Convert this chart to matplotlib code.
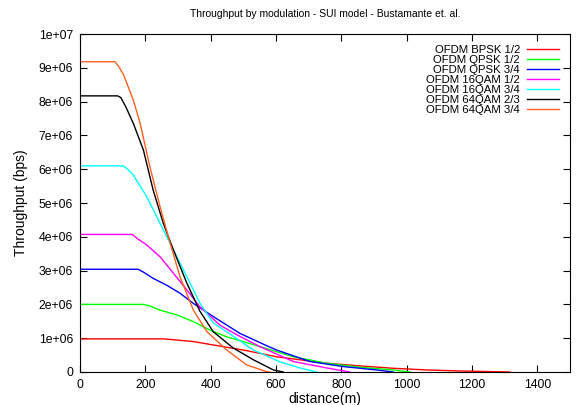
import matplotlib
matplotlib.use('Agg')
import matplotlib.pyplot as plt

plt.rcParams['font.family'] = ['Liberation Sans', 'DejaVu Sans']

# distance (m) / throughput (bps)
bpsk12_d = [0, 1, 255, 280, 347, 438, 500, 602, 755, 857, 959, 1061, 1163, 1316]
bpsk12_t = [0, 0.98e6, 0.98e6, 0.96e6, 0.90e6, 0.75e6, 0.65e6, 0.45e6, 0.26e6, 0.18e6, 0.11e6, 0.06e6, 0.03e6, 0]

qpsk12_d = [0, 1, 195, 215, 245, 296, 347, 398, 449, 500, 551, 653, 755, 857, 959, 1010]
qpsk12_t = [0, 2.00e6, 2.00e6, 1.95e6, 1.83e6, 1.69e6, 1.49e6, 1.24e6, 1.04e6, 0.90e6, 0.75e6, 0.45e6, 0.26e6, 0.14e6, 0.06e6, 0]

qpsk34_d = [0, 1, 178, 195, 224, 265, 306, 347, 408, 490, 571, 602, 704, 806, 908, 959]
qpsk34_t = [0, 3.04e6, 3.04e6, 2.95e6, 2.77e6, 2.57e6, 2.33e6, 2.03e6, 1.64e6, 1.14e6, 0.78e6, 0.65e6, 0.31e6, 0.16e6, 0.06e6, 0]

qam16_12_d = [0, 1, 160, 175, 204, 245, 286, 327, 367, 429, 490, 551, 653, 755, 826]
qam16_12_t = [0, 4.07e6, 4.07e6, 3.95e6, 3.76e6, 3.41e6, 2.92e6, 2.43e6, 1.93e6, 1.38e6, 1.05e6, 0.75e6, 0.31e6, 0.12e6, 0]

qam16_34_d = [0, 1, 133, 148, 163, 204, 245, 286, 327, 367, 408, 449, 531, 612, 673, 724]
qam16_34_t = [0, 6.10e6, 6.10e6, 5.98e6, 5.83e6, 5.19e6, 4.40e6, 3.61e6, 2.82e6, 2.04e6, 1.45e6, 1.19e6, 0.65e6, 0.30e6, 0.12e6, 0]

qam64_23_d = [0, 1, 115, 125, 140, 163, 194, 224, 255, 286, 327, 367, 408, 469, 531, 592, 622]
qam64_23_t = [0, 8.17e6, 8.17e6, 8.12e6, 7.85e6, 7.36e6, 6.57e6, 5.38e6, 4.40e6, 3.61e6, 2.63e6, 1.80e6, 1.19e6, 0.71e6, 0.36e6, 0.06e6, 0]

qam64_34_d = [0, 1, 107, 118, 133, 163, 184, 214, 245, 276, 306, 347, 388, 449, 510, 571, 580]
qam64_34_t = [0, 9.18e6, 9.18e6, 9.05e6, 8.80e6, 8.05e6, 7.36e6, 6.07e6, 4.89e6, 3.81e6, 2.82e6, 1.83e6, 1.20e6, 0.65e6, 0.21e6, 0.01e6, 0]

labels = ['OFDM BPSK 1/2', 'OFDM QPSK 1/2', 'OFDM QPSK 3/4', 'OFDM 16QAM 1/2',
          'OFDM 16QAM 3/4', 'OFDM 64QAM 2/3', 'OFDM 64QAM 3/4']
colors = ['#ff0000', '#00ff00', '#0000ff', '#ff00ff', '#00ffff', '#000000', '#ff6020']
series = [(bpsk12_d, bpsk12_t), (qpsk12_d, qpsk12_t), (qpsk34_d, qpsk34_t),
          (qam16_12_d, qam16_12_t), (qam16_34_d, qam16_34_t),
          (qam64_23_d, qam64_23_t), (qam64_34_d, qam64_34_t)]

fig = plt.figure(figsize=(5.76, 4.05), dpi=100)
ax = fig.add_axes([0.1389, 0.0815, 0.8507, 0.8345])

for (d, t), lab, c in zip(series, labels, colors):
    ax.plot(d, t, color=c, lw=1.0, label=lab)

ax.set_xlim(0, 1500)
ax.set_ylim(0, 1e7)
ax.set_xticks(range(0, 1401, 200))
yt = [i * 1e6 for i in range(11)]
ax.set_yticks(yt)
ax.set_yticklabels(['0'] + ['%de+06' % i for i in range(1, 10)] + ['1e+07'])
ax.tick_params(direction='in', top=True, right=True, labelsize=8.8, length=5, width=0.8, pad=5)
for s in ax.spines.values():
    s.set_linewidth(0.8)

ax.set_xlabel('distance(m)', fontsize=10, labelpad=1)
ax.set_ylabel('Throughput (bps)', fontsize=10, labelpad=8)
ax.set_title('Throughput by modulation - SUI model - Bustamante et. al.', fontsize=7.5, pad=12)

ax.legend(loc='upper right', frameon=False, markerfirst=False, fontsize=8.2,
          labelspacing=0.0, handlelength=2.8, handletextpad=0.6,
          borderaxespad=0.6, borderpad=0.4)

fig.savefig('out.png', dpi=100)
